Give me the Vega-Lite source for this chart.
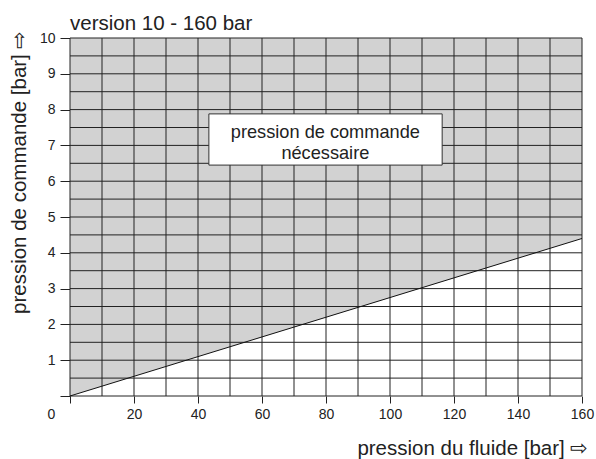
{
  "$schema": "https://vega.github.io/schema/vega-lite/v6.json",
  "width": 512,
  "height": 358,
  "autosize": {"type": "none"},
  "padding": {"left": 70, "top": 38, "right": 14, "bottom": 63},
  "background": "white",
  "config": {"view": {"stroke": null}, "font": "Liberation Sans"},
  "title": {"text": "version 10 - 160 bar", "anchor": "start", "frame": "group", "font": "Liberation Sans", "fontSize": 20.5, "fontWeight": "normal", "color": "#222", "baseline": "alphabetic", "offset": -20},
  "datasets": {
    "gx": [{"x":0},{"x":10},{"x":20},{"x":30},{"x":40},{"x":50},{"x":60},{"x":70},{"x":80},{"x":90},{"x":100},{"x":110},{"x":120},{"x":130},{"x":140},{"x":150},{"x":160}],
    "gy": [{"y":0},{"y":0.5},{"y":1},{"y":1.5},{"y":2},{"y":2.5},{"y":3},{"y":3.5},{"y":4},{"y":4.5},{"y":5},{"y":5.5},{"y":6},{"y":6.5},{"y":7},{"y":7.5},{"y":8},{"y":8.5},{"y":9},{"y":9.5},{"y":10}],
    "curve": [{"x":0,"y":0},{"x":160,"y":4.4}],
    "box": [{"x1":43.4,"x2":116.3,"y1":6.45,"y2":7.88,"tx":79.8,"ty":7.34,"label":["pression de commande","nécessaire"]}]
  },
  "layer": [
    {
      "data": {"name": "curve"},
      "mark": {"type": "area", "fill": "#d2d2d2"},
      "encoding": {
        "x": {"field": "x", "type": "quantitative", "scale": {"domain": [0, 160], "nice": false, "zero": false},
          "axis": {"values": [0,20,40,60,80,100,120,140,160], "grid": false, "domain": false,
            "tickSize": 7, "tickColor": "#222", "tickWidth": 1,
            "labelFont": "Liberation Sans", "labelFontSize": 14, "labelColor": "#222", "labelPadding": 4,
            "labelOffset": {"condition": {"test": "datum.value == 0", "value": -19}, "value": 0},
            "labelFlush": false, "labelOverlap": false,
            "title": "pression du fluide [bar] ⇨", "titleFont": "Liberation Sans", "titleFontSize": 20.5, "titleFontWeight": "normal", "titleColor": "#222",
            "titleAnchor": "end", "titleAlign": "right", "titleX": 518, "titleY": 58, "titleBaseline": "alphabetic"}},
        "y": {"field": "y", "type": "quantitative", "scale": {"domain": [0, 10], "nice": false, "zero": false},
          "axis": {"values": [0,1,2,3,4,5,6,7,8,9,10], "grid": false, "domain": false,
            "tickSize": 10, "tickColor": "#222", "tickWidth": 1,
            "labelFont": "Liberation Sans", "labelFontSize": 14, "labelColor": "#222", "labelPadding": 5,
            "labelOverlap": false, "labelFlush": false, "labelBound": false,
            "labelExpr": "datum.value == 0 ? '' : datum.label",
            "title": "pression de commande [bar] ⇨", "titleFont": "Liberation Sans", "titleFontSize": 20.5, "titleFontWeight": "normal", "titleColor": "#222",
            "titleAngle": 270, "titleAlign": "right", "titleBaseline": "middle", "titleX": -51, "titleY": -8}},
        "y2": {"datum": 10}
      }
    },
    {
      "data": {"name": "gx"},
      "mark": {"type": "rule", "color": "#222", "strokeWidth": 1},
      "encoding": {"x": {"field": "x", "type": "quantitative"}}
    },
    {
      "data": {"name": "gy"},
      "mark": {"type": "rule", "color": "#222", "strokeWidth": 1},
      "encoding": {"y": {"field": "y", "type": "quantitative",
          "axis": {"values": [0,1,2,3,4,5,6,7,8,9,10], "grid": false, "domain": false,
            "tickSize": 10, "tickColor": "#222", "tickWidth": 1,
            "labelFont": "Liberation Sans", "labelFontSize": 14, "labelColor": "#222", "labelPadding": 5,
            "labelOverlap": false, "labelFlush": false, "labelBound": false,
            "labelExpr": "datum.value == 0 ? '' : datum.label",
            "title": "pression de commande [bar] ⇨", "titleFont": "Liberation Sans", "titleFontSize": 20.5, "titleFontWeight": "normal", "titleColor": "#222",
            "titleAngle": 270, "titleAlign": "right", "titleBaseline": "middle", "titleX": -51, "titleY": -8}}}
    },
    {
      "data": {"name": "box"},
      "mark": {"type": "rect", "fill": "white", "stroke": "#333", "strokeWidth": 1},
      "encoding": {
        "x": {"field": "x1", "type": "quantitative"},
        "x2": {"field": "x2"},
        "y": {"field": "y1", "type": "quantitative",
          "axis": {"values": [0,1,2,3,4,5,6,7,8,9,10], "grid": false, "domain": false,
            "tickSize": 10, "tickColor": "#222", "tickWidth": 1,
            "labelFont": "Liberation Sans", "labelFontSize": 14, "labelColor": "#222", "labelPadding": 5,
            "labelOverlap": false, "labelFlush": false, "labelBound": false,
            "labelExpr": "datum.value == 0 ? '' : datum.label",
            "title": "pression de commande [bar] ⇨", "titleFont": "Liberation Sans", "titleFontSize": 20.5, "titleFontWeight": "normal", "titleColor": "#222",
            "titleAngle": 270, "titleAlign": "right", "titleBaseline": "middle", "titleX": -51, "titleY": -8}},
        "y2": {"field": "y2"}
      }
    },
    {
      "data": {"name": "box"},
      "mark": {"type": "text", "font": "Liberation Sans", "fontSize": 18.2, "lineHeight": 21, "align": "center", "baseline": "middle", "color": "#222"},
      "encoding": {
        "x": {"field": "tx", "type": "quantitative"},
        "y": {"field": "ty", "type": "quantitative",
          "axis": {"values": [0,1,2,3,4,5,6,7,8,9,10], "grid": false, "domain": false,
            "tickSize": 10, "tickColor": "#222", "tickWidth": 1,
            "labelFont": "Liberation Sans", "labelFontSize": 14, "labelColor": "#222", "labelPadding": 5,
            "labelOverlap": false, "labelFlush": false, "labelBound": false,
            "labelExpr": "datum.value == 0 ? '' : datum.label",
            "title": "pression de commande [bar] ⇨", "titleFont": "Liberation Sans", "titleFontSize": 20.5, "titleFontWeight": "normal", "titleColor": "#222",
            "titleAngle": 270, "titleAlign": "right", "titleBaseline": "middle", "titleX": -51, "titleY": -8}},
        "text": {"field": "label"}
      }
    },
    {
      "data": {"name": "curve"},
      "mark": {"type": "line", "color": "#111", "strokeWidth": 1},
      "encoding": {
        "x": {"field": "x", "type": "quantitative"},
        "y": {"field": "y", "type": "quantitative",
          "axis": {"values": [0,1,2,3,4,5,6,7,8,9,10], "grid": false, "domain": false,
            "tickSize": 10, "tickColor": "#222", "tickWidth": 1,
            "labelFont": "Liberation Sans", "labelFontSize": 14, "labelColor": "#222", "labelPadding": 5,
            "labelOverlap": false, "labelFlush": false, "labelBound": false,
            "labelExpr": "datum.value == 0 ? '' : datum.label",
            "title": "pression de commande [bar] ⇨", "titleFont": "Liberation Sans", "titleFontSize": 20.5, "titleFontWeight": "normal", "titleColor": "#222",
            "titleAngle": 270, "titleAlign": "right", "titleBaseline": "middle", "titleX": -51, "titleY": -8}}
      }
    }
  ]
}
